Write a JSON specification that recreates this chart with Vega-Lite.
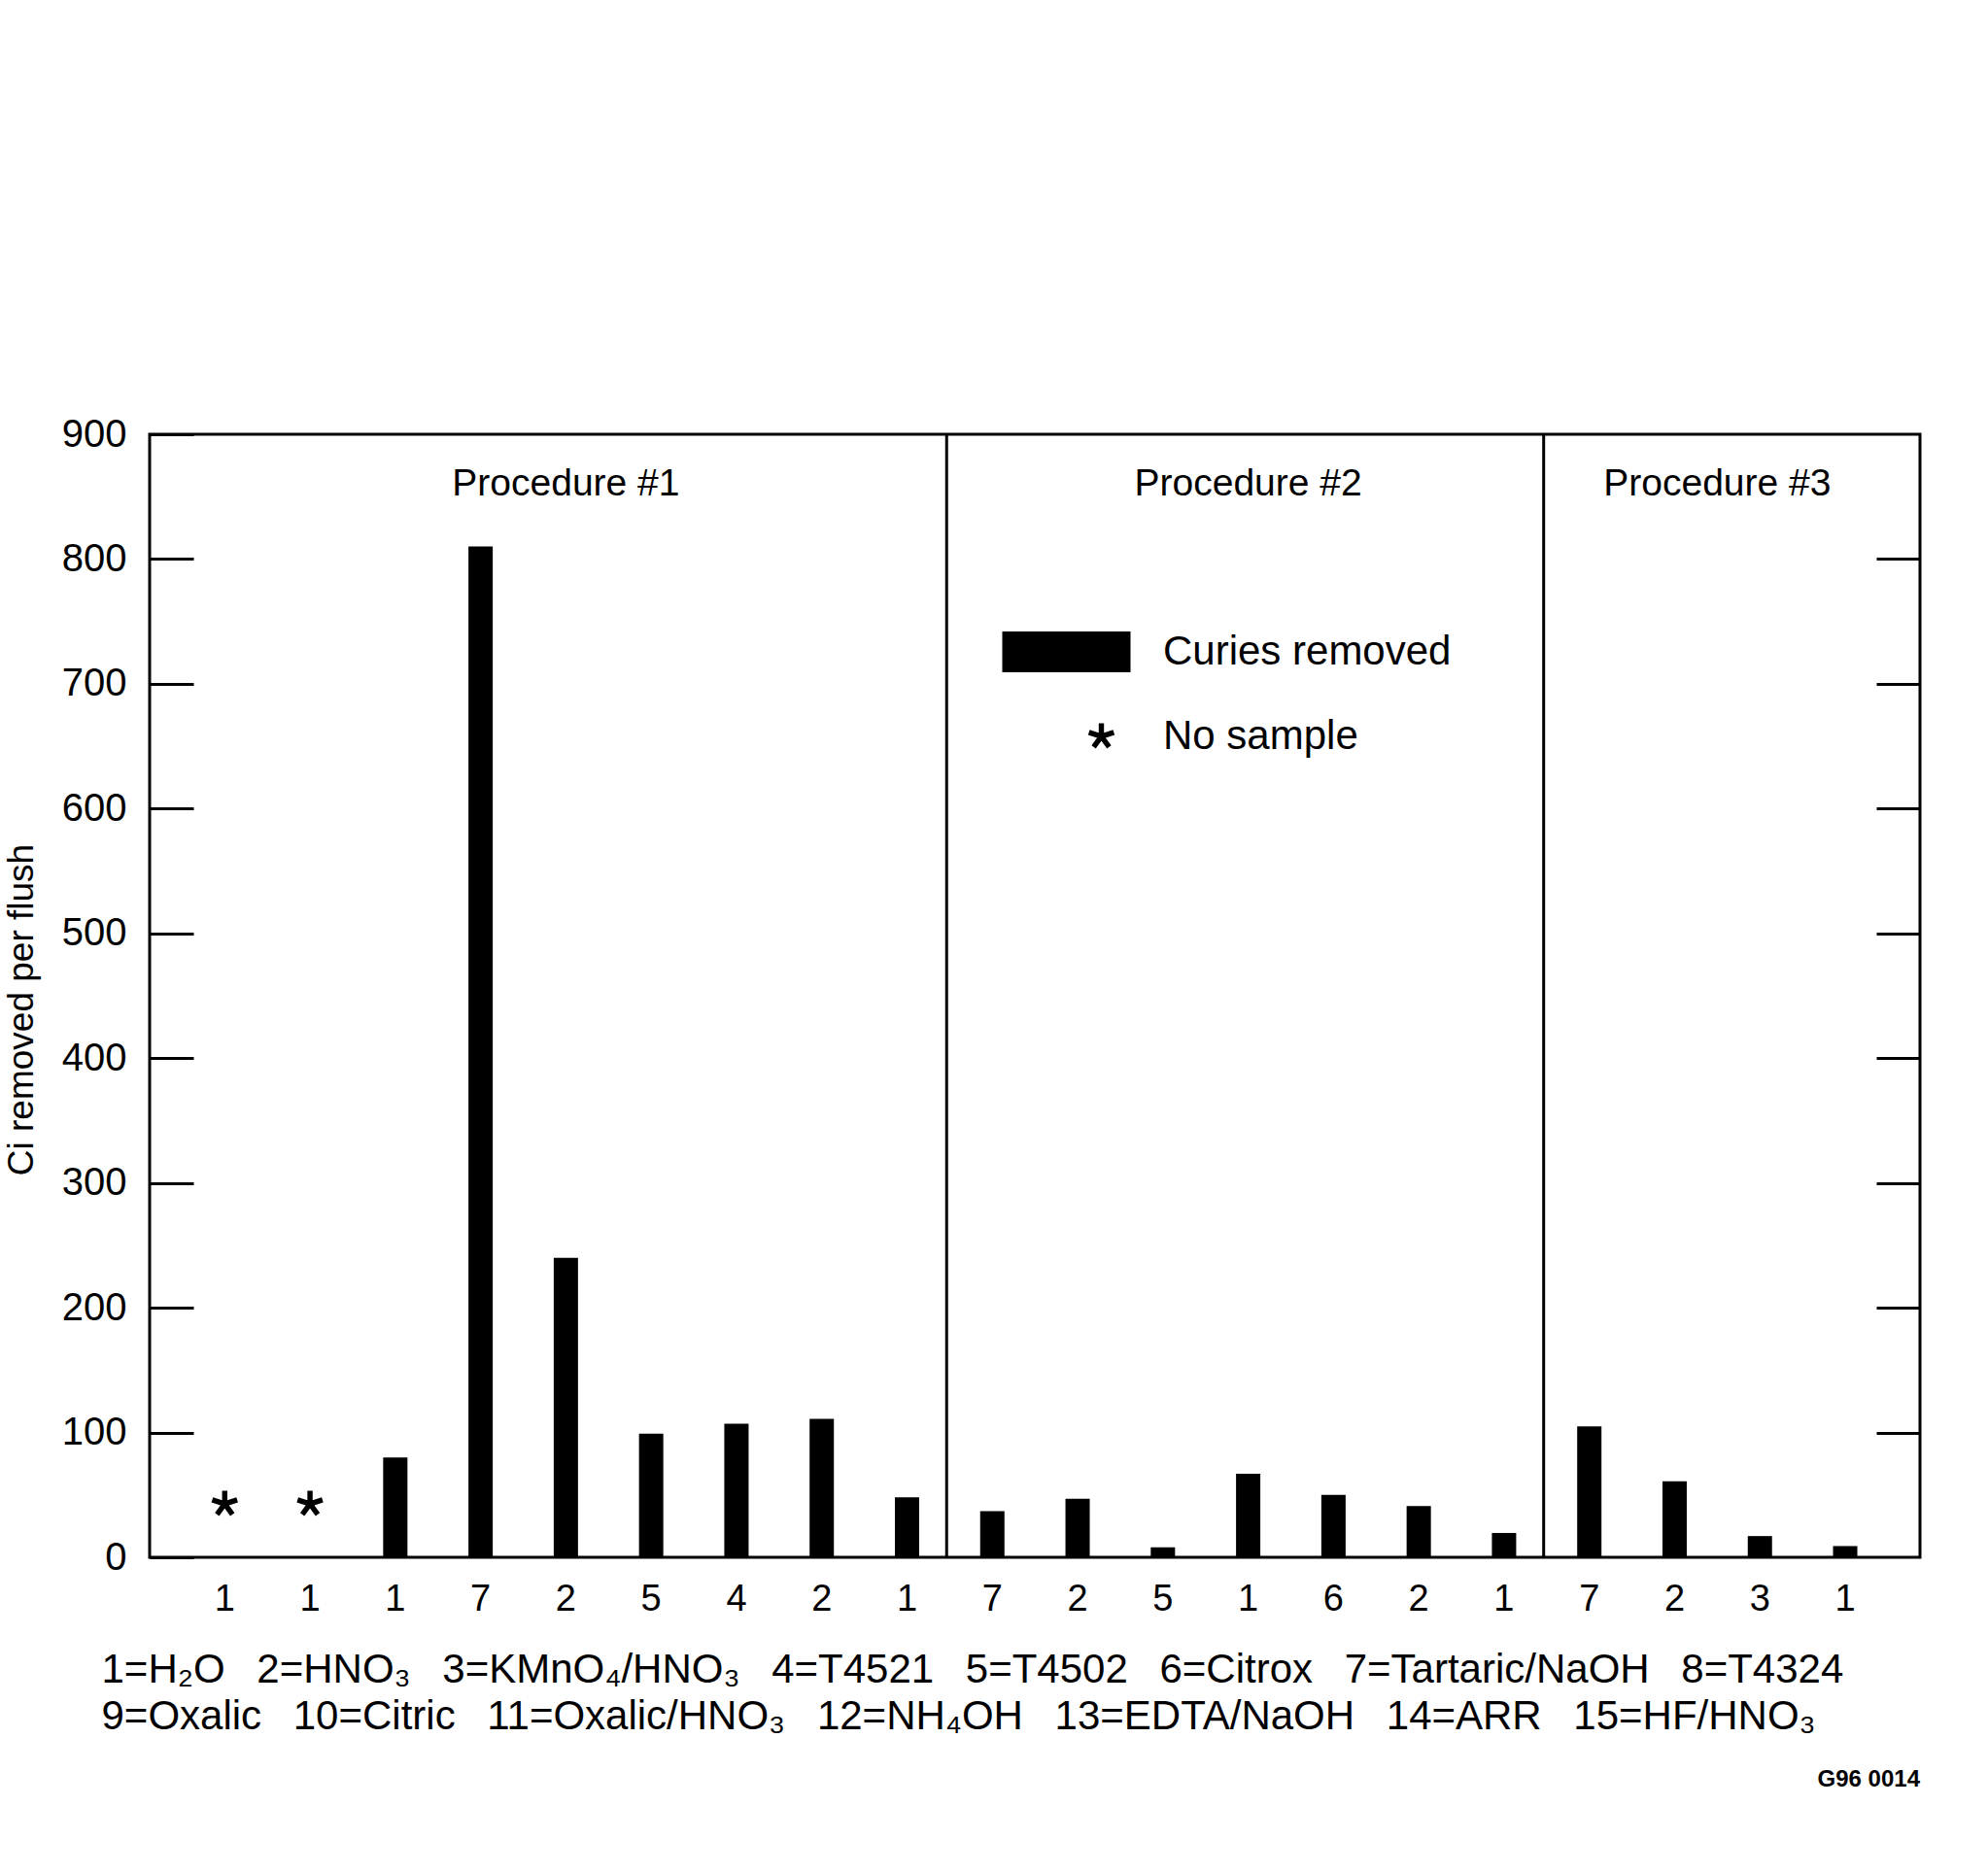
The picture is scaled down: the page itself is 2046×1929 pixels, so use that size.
{
  "$schema": "https://vega.github.io/schema/vega-lite/v6.json",
  "width": 1822,
  "height": 1156,
  "autosize": "none",
  "padding": {"left": 154, "top": 447, "right": 70, "bottom": 326},
  "background": "white",
  "config": {
    "font": "Liberation Sans",
    "view": {"stroke": "black", "strokeWidth": 3},
    "axis": {"grid": false, "domain": false, "labelColor": "black", "titleColor": "black", "tickColor": "black"}
  },
  "title": {"text": "G96 0014", "orient": "bottom", "anchor": "end", "frame": "group", "fontSize": 24, "fontWeight": "bold", "color": "black", "offset": 33},
  "data": {
    "values": [
      {"idx": 1, "proc": "Procedure #1", "code": 1, "status": "No sample", "ci": null},
      {"idx": 2, "proc": "Procedure #1", "code": 1, "status": "No sample", "ci": null},
      {"idx": 3, "proc": "Procedure #1", "code": 1, "status": "Curies removed", "ci": 80},
      {"idx": 4, "proc": "Procedure #1", "code": 7, "status": "Curies removed", "ci": 810},
      {"idx": 5, "proc": "Procedure #1", "code": 2, "status": "Curies removed", "ci": 240},
      {"idx": 6, "proc": "Procedure #1", "code": 5, "status": "Curies removed", "ci": 99},
      {"idx": 7, "proc": "Procedure #1", "code": 4, "status": "Curies removed", "ci": 107},
      {"idx": 8, "proc": "Procedure #1", "code": 2, "status": "Curies removed", "ci": 111},
      {"idx": 9, "proc": "Procedure #1", "code": 1, "status": "Curies removed", "ci": 48},
      {"idx": 10, "proc": "Procedure #2", "code": 7, "status": "Curies removed", "ci": 37},
      {"idx": 11, "proc": "Procedure #2", "code": 2, "status": "Curies removed", "ci": 47},
      {"idx": 12, "proc": "Procedure #2", "code": 5, "status": "Curies removed", "ci": 8},
      {"idx": 13, "proc": "Procedure #2", "code": 1, "status": "Curies removed", "ci": 67},
      {"idx": 14, "proc": "Procedure #2", "code": 6, "status": "Curies removed", "ci": 50},
      {"idx": 15, "proc": "Procedure #2", "code": 2, "status": "Curies removed", "ci": 41},
      {"idx": 16, "proc": "Procedure #2", "code": 1, "status": "Curies removed", "ci": 19.5},
      {"idx": 17, "proc": "Procedure #3", "code": 7, "status": "Curies removed", "ci": 105},
      {"idx": 18, "proc": "Procedure #3", "code": 2, "status": "Curies removed", "ci": 61},
      {"idx": 19, "proc": "Procedure #3", "code": 3, "status": "Curies removed", "ci": 17},
      {"idx": 20, "proc": "Procedure #3", "code": 1, "status": "Curies removed", "ci": 9}
    ]
  },
  "layer": [
    {
      "mark": {"type": "bar", "color": "black", "size": 25},
      "transform": [{"filter": "datum.status == 'Curies removed'"}],
      "encoding": {
        "x": {
          "field": "idx", "type": "quantitative",
          "scale": {"domain": [0.1765, 20.82], "nice": false, "zero": false},
          "axis": {
            "orient": "bottom", "labels": false, "ticks": false, "domain": false, "grid": false,
            "title": ["1=H₂O\u00a0\u20022=HNO₃\u00a0\u20023=KMnO₄/HNO₃\u00a0\u20024=T4521\u00a0\u20025=T4502\u00a0\u20026=Citrox\u00a0\u20027=Tartaric/NaOH\u00a0\u20028=T4324", "9=Oxalic\u00a0\u200210=Citric\u00a0\u200211=Oxalic/HNO₃\u00a0\u200212=NH₄OH\u00a0\u200213=EDTA/NaOH\u00a0\u200214=ARR\u00a0\u200215=HF/HNO₃"],
            "titleFontSize": 42, "titleFontWeight": "normal", "titleAlign": "left", "titleBaseline": "alphabetic",
            "titleX": -50, "titleY": 128, "titleLineHeight": 48
          }
        },
        "y": {
          "field": "ci", "type": "quantitative",
          "scale": {"domain": [0, 900], "nice": false},
          "axis": {
            "orient": "left", "values": [0, 100, 200, 300, 400, 500, 600, 700, 800, 900],
            "tickSize": -45, "tickWidth": 3, "labelPadding": 69, "labelFontSize": 40,
            "title": "Ci removed per flush", "titleFontSize": 37, "titleFontWeight": "normal", "titlePadding": 22,
            "titleY": 592
          }
        }
      }
    },
    {
      "mark": {"type": "point", "filled": true, "color": "black", "size": 729, "opacity": 1},
      "transform": [{"filter": "datum.status == 'No sample'"}],
      "encoding": {
        "x": {"field": "idx", "type": "quantitative", "scale": {"domain": [0.1765, 20.82], "nice": false, "zero": false}},
        "y": {"datum": 42.8, "type": "quantitative", "scale": {"domain": [0, 900], "nice": false}, "axis": null},
        "shape": {
          "field": "status", "type": "nominal",
          "scale": {
            "domain": ["Curies removed", "No sample"],
            "range": [
              "M-7.556,-1.556H2.222V1.556H-7.556Z",
              "M-0.2,0.2L-0.2,-1L0.2,-1L0.2,0.2Z M-0.252,-0.128L0.889,-0.499L1.013,-0.119L-0.128,0.252Z M0.044,-0.279L0.75,0.691L0.426,0.927L-0.279,-0.044Z M0.279,-0.044L-0.426,0.927L-0.75,0.691L-0.044,-0.279Z M0.128,0.252L-1.013,-0.119L-0.889,-0.499L0.252,-0.128Z"
            ]
          },
          "legend": {
            "title": null, "orient": "none", "legendX": 958.5, "legendY": 203, "padding": 0,
            "labelFontSize": 42, "labelColor": "black", "labelOffset": 42.5, "rowPadding": 44,
            "symbolSize": 729, "symbolStrokeWidth": 0, "symbolFillColor": "black", "symbolOpacity": 1, "labelLimit": 600
          }
        }
      }
    },
    {
      "mark": {"type": "text", "fontSize": 38, "baseline": "middle", "dy": 44, "color": "black"},
      "encoding": {
        "x": {"field": "idx", "type": "quantitative", "scale": {"domain": [0.1765, 20.82], "nice": false, "zero": false}},
        "y": {"datum": 0, "type": "quantitative", "scale": {"domain": [0, 900], "nice": false}, "axis": null},
        "text": {"field": "code", "type": "nominal"}
      }
    },
    {
      "mark": {"type": "rule", "color": "black", "strokeWidth": 3, "xOffset": -47},
      "transform": [
        {"aggregate": [{"op": "min", "field": "idx", "as": "first"}], "groupby": ["proc"]},
        {"filter": "datum.first > 1"}
      ],
      "encoding": {
        "x": {"field": "first", "type": "quantitative", "scale": {"domain": [0.1765, 20.82], "nice": false, "zero": false}}
      }
    },
    {
      "mark": {"type": "text", "fontSize": 39, "baseline": "middle", "color": "black"},
      "transform": [
        {"aggregate": [{"op": "mean", "field": "idx", "as": "mid"}], "groupby": ["proc"]}
      ],
      "encoding": {
        "x": {"field": "mid", "type": "quantitative", "scale": {"domain": [0.1765, 20.82], "nice": false, "zero": false}},
        "y": {"datum": 860, "type": "quantitative", "scale": {"domain": [0, 900], "nice": false}, "axis": null},
        "text": {"field": "proc", "type": "nominal"}
      }
    },
    {
      "mark": {"type": "rule", "opacity": 0},
      "encoding": {
        "y": {
          "field": "ci", "type": "quantitative",
          "scale": {"domain": [0, 900], "nice": false},
          "axis": {
            "orient": "right", "values": [100, 200, 300, 400, 500, 600, 700, 800],
            "tickSize": -45, "tickWidth": 3, "labels": false, "title": null, "domain": false, "grid": false
          }
        }
      }
    }
  ],
  "resolve": {"axis": {"y": "independent"}}
}
